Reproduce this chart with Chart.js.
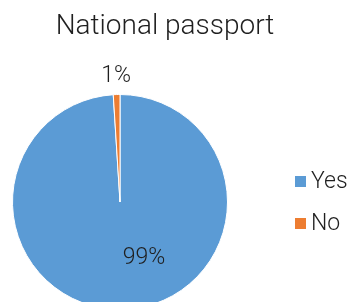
<!DOCTYPE html>
<html lang="en">
<head>
  <meta charset="UTF-8">
  <script src="https://cdn.jsdelivr.net/npm/chart.js"></script>
  <style>
    html, body { margin: 0; padding: 0; background: #fff; overflow: hidden; }
    #wrap { position: relative; width: 351px; height: 320px; }
  </style>
</head>
<body>
  <div id="wrap"><canvas id="pie" width="351" height="320"></canvas></div>
  <script>
    const title = 'National passport';
    const labels = ['Yes', 'No'];
    const values = [99, 1];
    const colors = ['#5B9BD5', '#ED7D31'];

    const FONT = 'Roboto, "DejaVu Sans", sans-serif';
    const INK = '#1f1f1f';

    // Title, percentage labels and the legend, drawn after the pie
    const decorations = {
      id: 'decorations',
      afterDraw(chart) {
        const ctx = chart.ctx;
        const meta = chart.getDatasetMeta(0);
        const total = values.reduce((a, b) => a + b, 0);
        ctx.save();
        ctx.fillStyle = INK;

        ctx.font = '300 28px ' + FONT;
        ctx.textAlign = 'center';
        ctx.textBaseline = 'middle';
        ctx.fillText(title, 165, 27);

        ctx.font = '300 23px ' + FONT;
        meta.data.forEach((arc, i) => {
          const pct = Math.round(values[i] / total * 100) + '%';
          const mid = (arc.startAngle + arc.endAngle) / 2;
          let x, y;
          if (values[i] / total < 0.1) {
            const r = arc.outerRadius + 18;
            x = arc.x + Math.cos(mid) * r;
            y = arc.y + Math.sin(mid) * r;
          } else {
            const a = mid - 0.37;
            const r = arc.outerRadius * 0.57;
            x = arc.x + Math.cos(a) * r;
            y = arc.y + Math.sin(a) * r;
          }
          ctx.fillText(pct, x, y);
        });

        ctx.textAlign = 'left';
        ctx.font = '300 23px ' + FONT;
        labels.forEach((lab, i) => {
          const y = 182 + i * 42;
          ctx.fillStyle = colors[i];
          ctx.fillRect(295, y - 6, 11, 11);
          ctx.fillStyle = INK;
          ctx.fillText(lab, 311, y);
        });
        ctx.restore();
      }
    };

    new Chart(document.getElementById('pie'), {
      type: 'pie',
      data: {
        labels: labels,
        datasets: [{
          data: values,
          backgroundColor: colors,
          borderColor: '#ffffff',
          borderWidth: 1
        }]
      },
      options: {
        responsive: false,
        animation: false,
        layout: { padding: { left: 12, top: 94, right: 123, bottom: 10 } },
        plugins: {
          legend: { display: false },
          title: { display: false },
          tooltip: { enabled: false }
        }
      },
      plugins: [decorations]
    });
  </script>
</body>
</html>
